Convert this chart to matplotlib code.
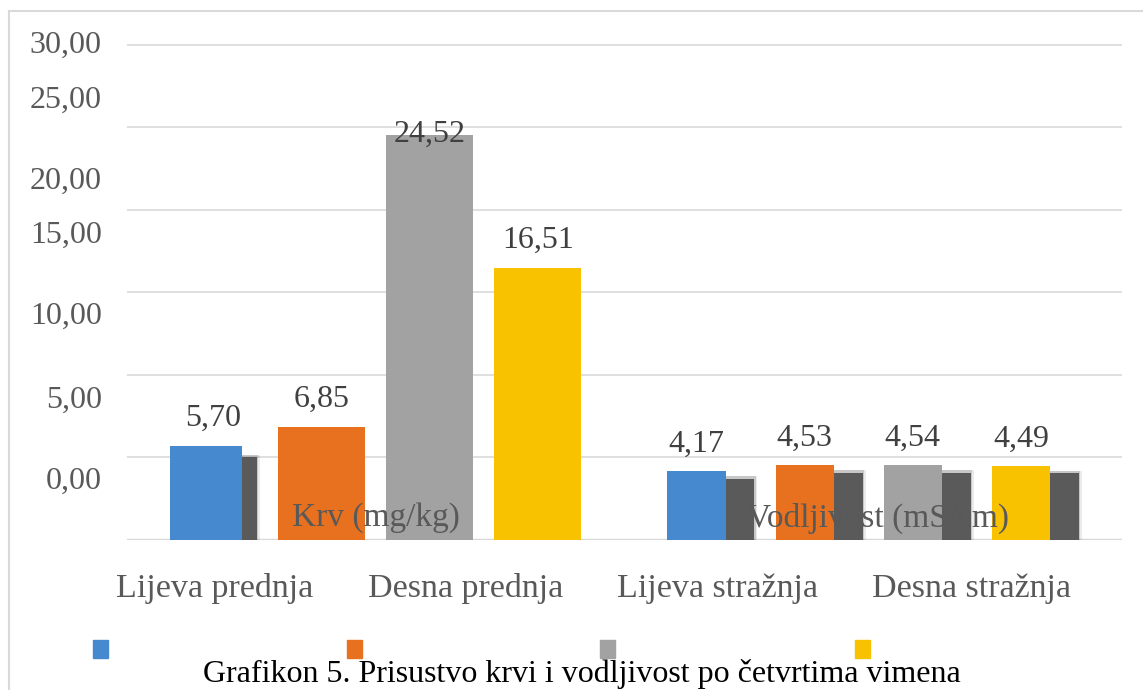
import matplotlib
matplotlib.use("Agg")
import matplotlib.pyplot as plt
import numpy as np
from matplotlib.patches import Rectangle

plt.rcParams['font.family'] = ['Liberation Serif', 'DejaVu Serif']

# data
groups = ["Krv (mg/kg)", "Vodljivost (mS/cm)"]
quarters = ["Lijeva prednja", "Desna prednja", "Lijeva stražnja", "Desna stražnja"]
krv = [5.70, 6.85, 24.52, 16.51]
vodljivost = [4.17, 4.53, 4.54, 4.49]
colors = ["#4689CF", "#E8711F", "#A2A2A2", "#F8C200"]

# axis text as it sits in the original
ytick_vals = [30, 25, 20, 15, 10, 5, 0]
ytick_pos = [30.18, 26.85, 21.94, 18.67, 13.76, 8.67, 3.76]
ytick_labels = ["%.2f" % v for v in ytick_vals]
ytick_labels = [s.replace(".", ",") for s in ytick_labels]
cat_pos = [-0.323, 0.181, 0.688, 1.197]

fig = plt.figure(figsize=(11.43, 6.90), dpi=100)
ax = fig.add_axes([0.111, 0.2174, 0.8705, 0.7246])
ax.set_xlim(-0.5, 1.5)
ax.set_ylim(0, 30.3)

for y in range(5, 35, 5):
    ax.axhline(y, color="#d9d9d9", lw=1.2, zorder=0)
ax.axhline(0, color="#d9d9d9", lw=2.5, zorder=1)

offsets = (np.arange(4) - 1.5) * 0.2173
slot = 0.175

def fmt(v):
    return ("%.2f" % v).replace(".", ",")

def shadow(left, h, w):
    # soft dark block behind the bar
    for k, a in [(0.012, 0.12), (0.006, 0.25)]:
        ax.bar(left - k / 2, h + 0.15, width=w + k, align="edge", color="#5c5c5c",
               alpha=a, lw=0, zorder=2)
    ax.bar(left, h, width=w, align="edge", color="#5a5a5a", lw=0, zorder=2)

# Krv group
krv_front = [0.83, 1, 1, 1]
krv_dy = [28, 28, 1, 27]
for i, v in enumerate(krv):
    left = 0 + offsets[i] - slot / 2
    w = slot * krv_front[i]
    if krv_front[i] < 1:
        shadow(left + w, 5.0, slot - w)
    ax.bar(left, v, width=w, align="edge", color=colors[i], zorder=3)
    ax.annotate(fmt(v), (0 + offsets[i], v), xytext=(0, krv_dy[i]), textcoords="offset pixels",
                ha="center", va="center", fontsize=23, color="#404040", zorder=5)

# Vodljivost group
vod_front = 0.67
for i, v in enumerate(vodljivost):
    left = 1 + offsets[i] - slot / 2
    w = slot * vod_front
    shadow(left + w, v - 0.45, slot - w)
    ax.bar(left, v, width=w, align="edge", color=colors[i], zorder=3)
    ax.annotate(fmt(v), (left + w / 2, v), xytext=(0, 27), textcoords="offset pixels",
                ha="center", va="center", fontsize=23, color="#404040", zorder=5)

ax.text(0, 1.33, groups[0], ha="center", va="center", fontsize=24, color="#595959", zorder=6)
ax.text(1.01, 1.33, groups[1], ha="center", va="center", fontsize=24, color="#595959", zorder=6)

ax.set_yticks(ytick_pos, ytick_labels)
ax.set_xticks(cat_pos, quarters)
ax.tick_params(axis="y", length=0, pad=18, labelsize=23, labelcolor="#595959")
ax.tick_params(axis="x", length=0, pad=24, labelsize=24.5, labelcolor="#595959")
for s in ax.spines.values():
    s.set_visible(False)

# legend markers without text
leg_x = [100, 354, 607, 862]
for i, c in enumerate(colors):
    fig.patches.append(Rectangle(((leg_x[i] - 7.5) / 1143, 1 - 658 / 690), 15 / 1143, 18 / 690,
                                 transform=fig.transFigure, color=c, zorder=3))

# frame
fig.add_artist(plt.Line2D([9 / 1143, 9 / 1143], [0, 1 - 11 / 690], color="#d9d9d9", lw=1.5,
                          transform=fig.transFigure))
fig.add_artist(plt.Line2D([9 / 1143, 1], [1 - 11 / 690, 1 - 11 / 690], color="#d9d9d9", lw=1.5,
                          transform=fig.transFigure))

fig.text(582 / 1143, 1 - 674 / 690, "Grafikon 5. Prisustvo krvi i vodljivost po četvrtima vimena",
         ha="center", va="center", fontsize=23, color="black")

fig.savefig("out.png", dpi=100)
